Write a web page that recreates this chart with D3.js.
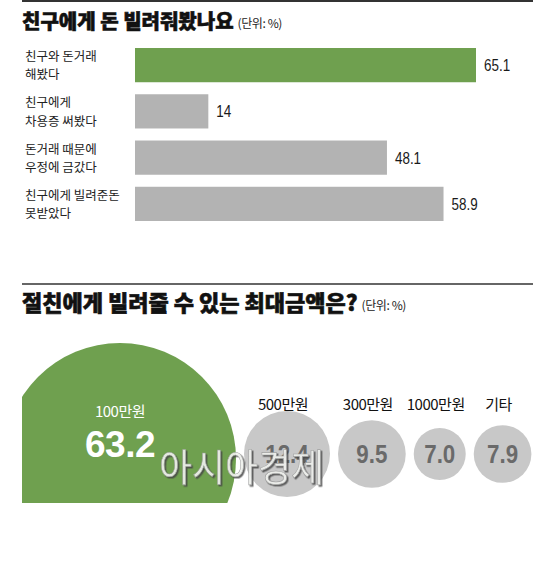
<!DOCTYPE html>
<html>
<head>
<meta charset="utf-8">
<script src="https://cdn.jsdelivr.net/npm/d3@7/dist/d3.min.js"></script>
<style>
  html, body { margin: 0; padding: 0; background: #fff; }
  svg { display: block; }
</style>
</head>
<body>
<svg id="chart" width="533" height="576"></svg>
<script>
// ---- data ----
const title1 = "친구에게 돈 빌려줘봤나요";
const title2 = "절친에게 빌려줄 수 있는 최대금액은?";
const unitLabel = "(단위: %)";

const barCategories = [
  ["친구와 돈거래", "해봤다"],
  ["친구에게", "차용증 써봤다"],
  ["돈거래 때문에", "우정에 금갔다"],
  ["친구에게 빌려준돈", "못받았다"]
];
const barValues = [65.1, 14, 48.1, 58.9];
const barValueLabels = ["65.1", "14", "48.1", "58.9"];

const bubbleCategories = ["100만원", "500만원", "300만원", "1000만원", "기타"];
const bubbleValues = [63.2, 12.4, 9.5, 7.0, 7.9];
const bubbleValueLabels = ["63.2", "12.4", "9.5", "7.0", "7.9"];

const watermark = "아시아경제";

// ---- styles ----
const GREEN = "#6fa04f";
const BAR_GRAY = "#b3b3b3";
const BUBBLE_GRAY = "#c8c8c8";
const KR = "'Noto Sans CJK KR', 'Noto Sans', sans-serif";
const NUM = "'Liberation Sans', Arial, sans-serif";

const svg = d3.select("#chart");
const defs = svg.append("defs");

// ---- headers ----
function header(y, text, size) {
  const t = svg.append("text").attr("x", 22).attr("y", y)
    .attr("font-family", KR).attr("font-weight", 900).attr("font-size", size)
    .attr("fill", "#111").attr("stroke", "#111").attr("stroke-width", 0.6)
    .text(text);
  const w = t.node().getComputedTextLength();
  svg.append("text").attr("x", 22 + w + 4).attr("y", y - 1)
    .attr("font-family", KR).attr("font-size", 12).attr("fill", "#222")
    .attr("letter-spacing", -0.4).text(unitLabel);
}

svg.append("line").attr("x1", 22).attr("x2", 533).attr("y1", 1).attr("y2", 1)
  .attr("stroke", "#333").attr("stroke-width", 2);
header(29, title1, 20);

// ---- bar chart ----
const x = d3.scaleLinear().domain([0, d3.max(barValues)]).range([135, 476]);
const y = d3.scaleBand().domain(d3.range(barValues.length))
  .range([42, 227]).paddingInner(0.26).paddingOuter(0.13);

const maxIdx = barValues.indexOf(d3.max(barValues));

svg.append("g").selectAll("rect").data(barValues).join("rect")
  .attr("x", x(0))
  .attr("y", (d, i) => y(i))
  .attr("width", d => x(d) - x(0))
  .attr("height", y.bandwidth())
  .attr("fill", (d, i) => i === maxIdx ? GREEN : BAR_GRAY);

svg.append("g").selectAll("text").data(barValues).join("text")
  .attr("transform", (d, i) => `translate(${x(d) + 8},${y(i) + y.bandwidth() / 2 + 6}) scale(0.84,1)`)
  .attr("font-family", NUM).attr("font-size", 16).attr("fill", "#1a1a1a")
  .text((d, i) => barValueLabels[i]);

const catG = svg.append("g");
barCategories.forEach((lines, i) => {
  const cy = y(i) + y.bandwidth() / 2;
  lines.forEach((ln, j) => {
    catG.append("text").attr("x", 25).attr("y", cy - 4 + j * 18.3)
      .attr("font-family", KR).attr("font-size", 12.5).attr("fill", "#222")
      .text(ln);
  });
});

// ---- section 2 header ----
svg.append("line").attr("x1", 22).attr("x2", 533).attr("y1", 284).attr("y2", 284)
  .attr("stroke", "#333").attr("stroke-width", 1.5);
header(311, title2, 22);

// ---- bubbles ----
const r = d3.scaleLinear().domain([0, 7, 12.4, 63.2]).range([0, 26, 43, 116]);

defs.append("clipPath").attr("id", "bigclip")
  .append("rect").attr("x", 22).attr("y", 300).attr("width", 300).attr("height", 203);

// big featured bubble
const big = { cx: 120, cy: 459 };
svg.append("circle").attr("cx", big.cx).attr("cy", big.cy).attr("r", r(bubbleValues[0]))
  .attr("fill", GREEN).attr("clip-path", "url(#bigclip)");
svg.append("text").attr("x", big.cx).attr("y", 417).attr("text-anchor", "middle")
  .attr("font-family", KR).attr("font-size", 15).attr("fill", "#fff")
  .attr("letter-spacing", -0.5).text(bubbleCategories[0]);
svg.append("text").attr("x", big.cx).attr("y", 457).attr("text-anchor", "middle")
  .attr("font-family", NUM).attr("font-weight", "bold")
  .attr("font-size", 37).attr("fill", "#fff").attr("letter-spacing", -0.5)
  .text(bubbleValueLabels[0]);

// small bubbles packed left to right
const gap = 8;
let cursor = 244;
const small = bubbleValues.slice(1).map((v, k) => {
  const rad = r(v);
  const cx = cursor + rad;
  cursor = cx + rad + gap;
  return { v, rad, cx, label: bubbleCategories[k + 1], vl: bubbleValueLabels[k + 1] };
});
const sg = svg.append("g");
sg.selectAll("circle").data(small).join("circle")
  .attr("cx", d => d.cx).attr("cy", 454).attr("r", d => d.rad).attr("fill", BUBBLE_GRAY);
sg.selectAll("text.cat").data(small).join("text").attr("class", "cat")
  .attr("x", d => d.cx - 4).attr("y", 410).attr("text-anchor", "middle")
  .attr("font-family", KR).attr("font-size", 15).attr("fill", "#111")
  .attr("letter-spacing", -0.5).text(d => d.label);
sg.selectAll("text.val").data(small).join("text").attr("class", "val")
  .attr("transform", d => `translate(${d.cx},463) scale(0.86,1)`)
  .attr("text-anchor", "middle")
  .attr("font-family", NUM).attr("font-weight", "bold")
  .attr("font-size", 26).attr("fill", "#6a6a6a").text(d => d.vl);

// watermark
const f = defs.append("filter").attr("id", "wmshadow")
  .attr("x", "-10%").attr("y", "-10%").attr("width", "120%").attr("height", "130%");
f.append("feDropShadow").attr("dx", 1.5).attr("dy", 1.5).attr("stdDeviation", 0.4)
  .attr("flood-color", "#444").attr("flood-opacity", 0.9);
svg.append("text").attr("x", 159).attr("y", 481)
  .attr("font-family", KR).attr("font-size", 38).attr("fill", "#eef0ec")
  .attr("stroke", "#9a9a9a").attr("stroke-width", 0.6)
  .attr("opacity", 0.92).attr("filter", "url(#wmshadow)")
  .attr("textLength", 165).attr("lengthAdjust", "spacingAndGlyphs").text(watermark);
</script>
</body>
</html>
